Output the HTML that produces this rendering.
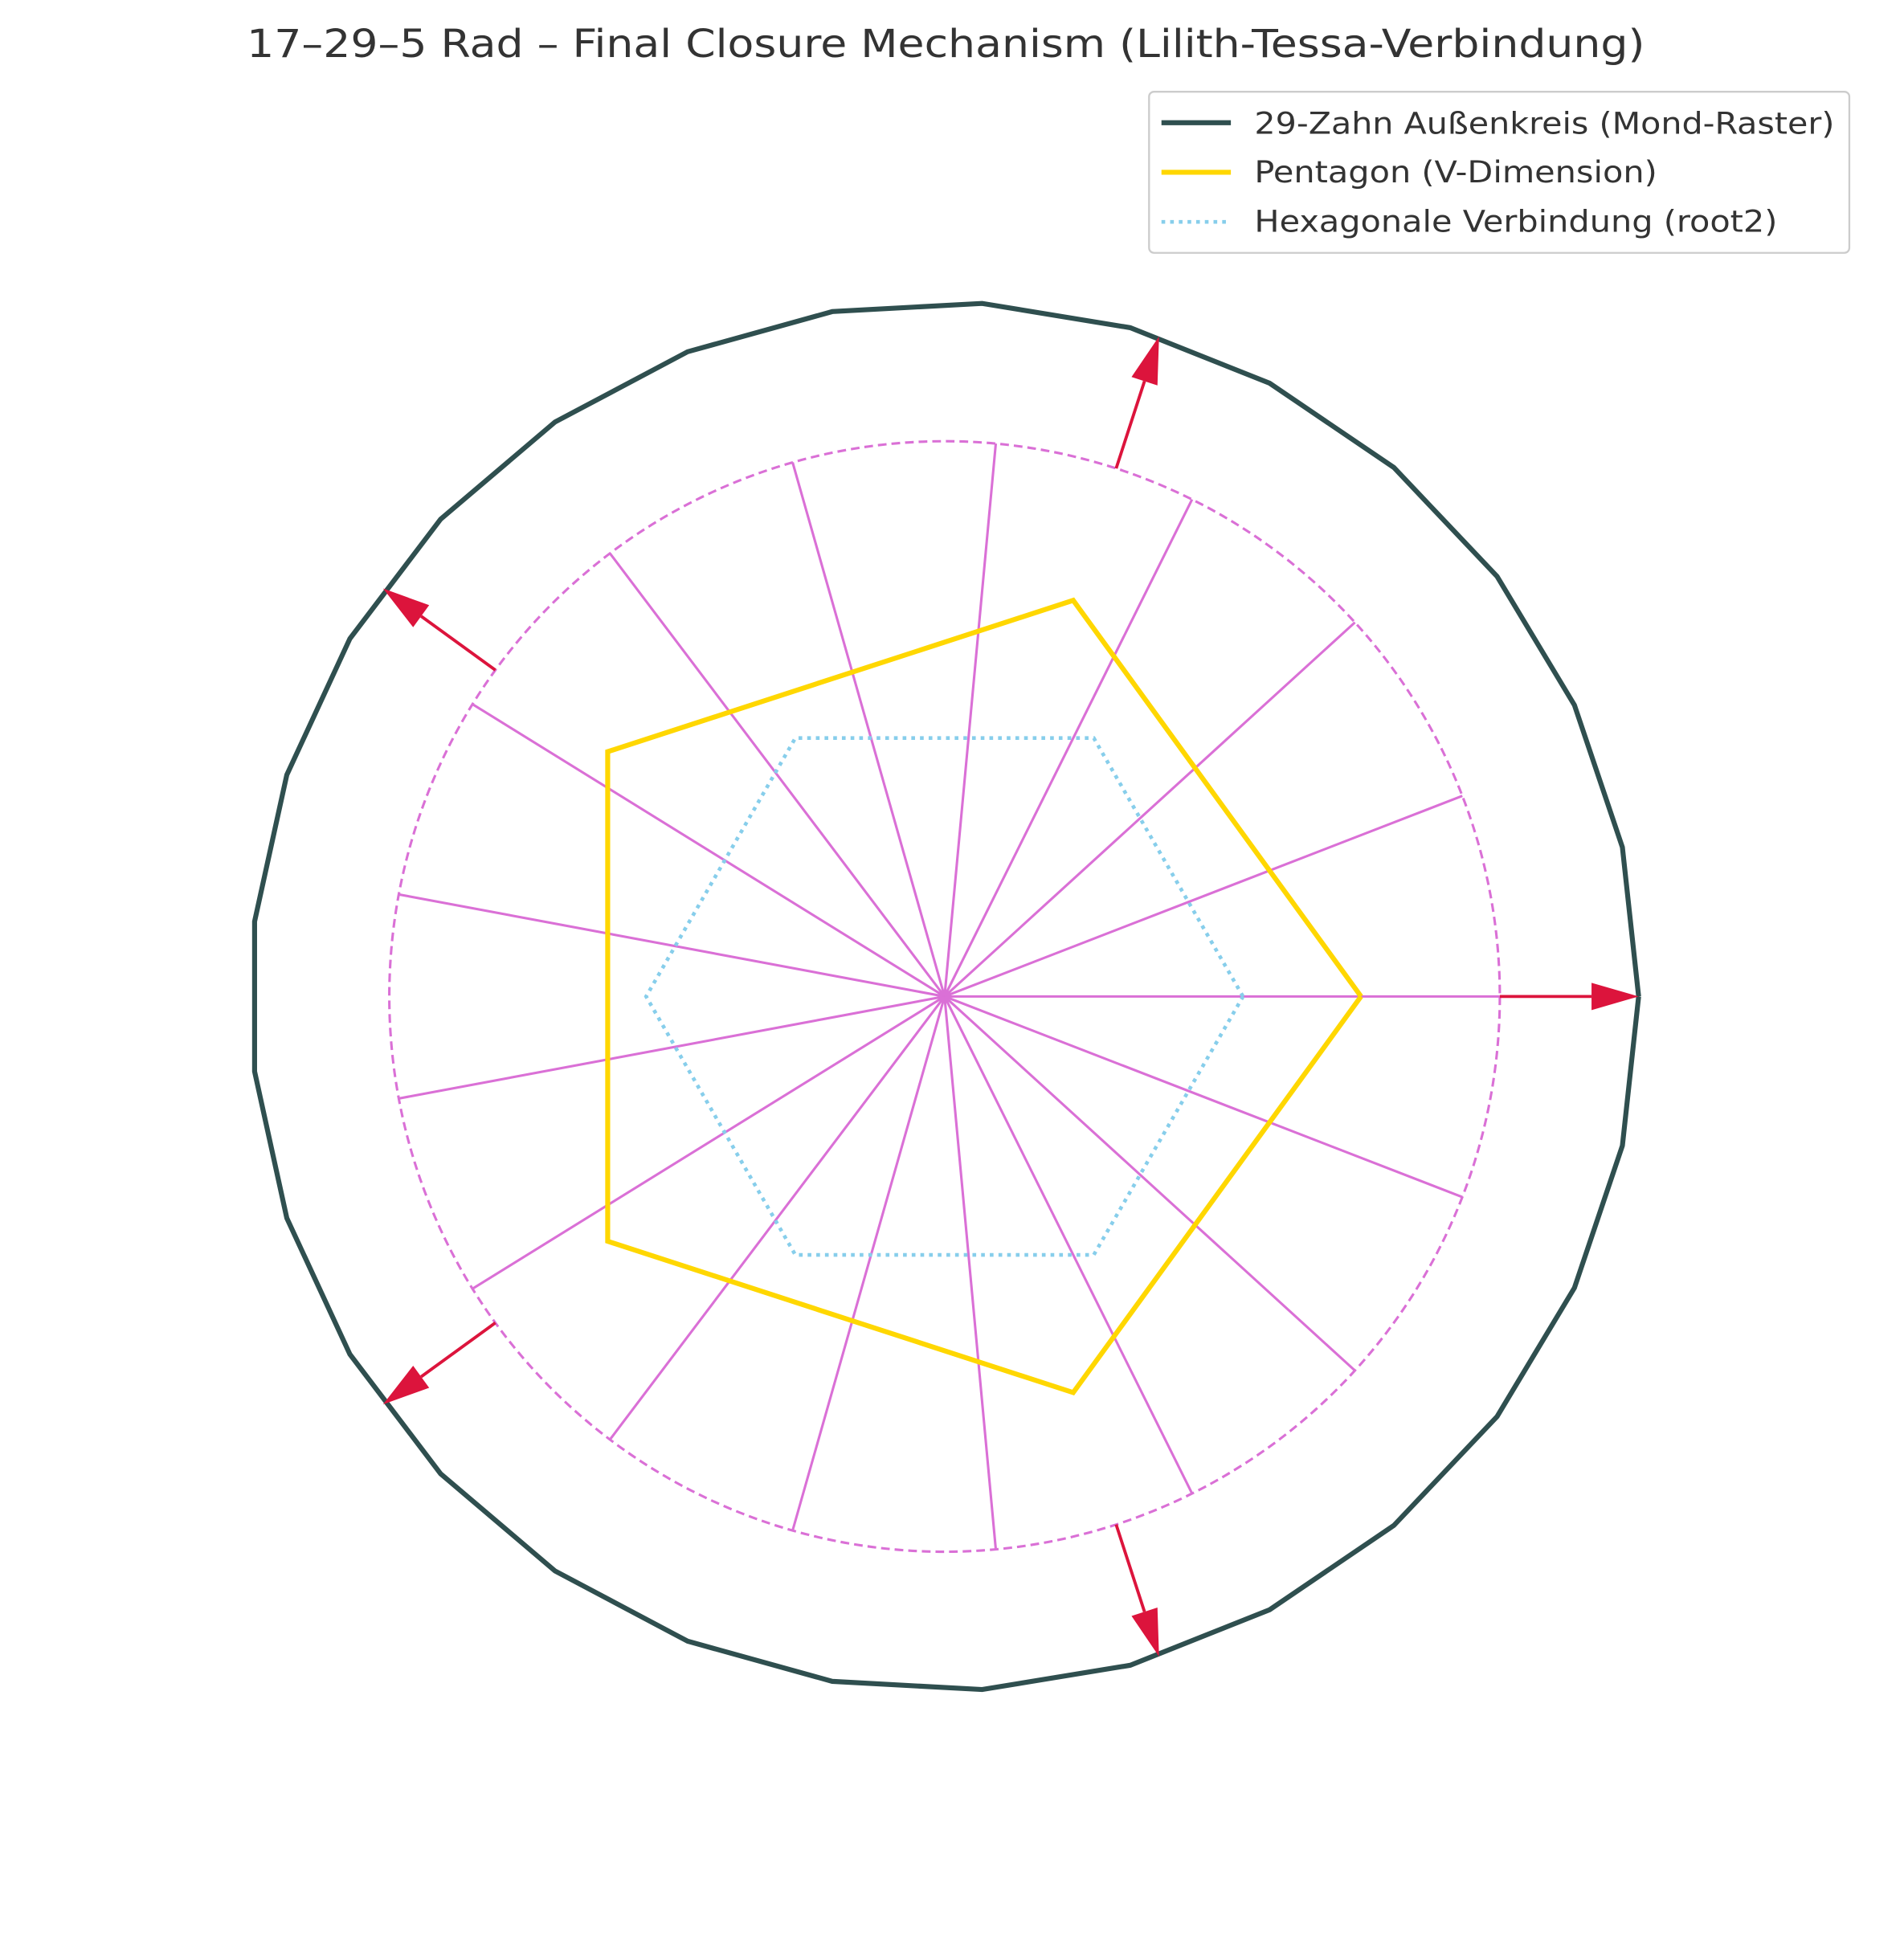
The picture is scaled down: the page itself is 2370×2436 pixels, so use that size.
<!DOCTYPE html>
<html><head><meta charset="utf-8"><style>
html,body{margin:0;padding:0;background:#fff;}
svg{display:block;}
</style></head><body>
<svg id="chart" width="2370" height="2436" viewBox="0 0 1536 1579" xmlns="http://www.w3.org/2000/svg">
<rect width="1536" height="1579" fill="#fff"/>
<text x="763" y="46" text-anchor="middle" textLength="1128" lengthAdjust="spacingAndGlyphs" font-family="DejaVu Sans, Liberation Sans, sans-serif" font-size="31" fill="#333">17–29–5 Rad – Final Closure Mechanism (Lilith-Tessa-Verbindung)</text>
<g id="plot"></g>
<g>
<rect x="927" y="74" width="565" height="130" rx="4" fill="#fff" stroke="#ccc" stroke-width="1.5"/>
<line x1="937" y1="99" x2="993" y2="99" stroke="#2f4f4f" stroke-width="4"/>
<text x="1012" y="108" textLength="468" lengthAdjust="spacingAndGlyphs" font-family="DejaVu Sans, Liberation Sans, sans-serif" font-size="24" fill="#333">29-Zahn Außenkreis (Mond-Raster)</text>
<line x1="937" y1="139" x2="993" y2="139" stroke="#ffd700" stroke-width="4"/>
<text x="1012" y="147" textLength="325" lengthAdjust="spacingAndGlyphs" font-family="DejaVu Sans, Liberation Sans, sans-serif" font-size="24" fill="#333">Pentagon (V-Dimension)</text>
<line x1="937" y1="179" x2="993" y2="179" stroke="#87ceeb" stroke-width="3" stroke-dasharray="3,4"/>
<text x="1012" y="187" textLength="422" lengthAdjust="spacingAndGlyphs" font-family="DejaVu Sans, Liberation Sans, sans-serif" font-size="24" fill="#333">Hexagonale Verbindung (root2)</text>
</g>
</svg>
<script>
const polygonSides = [29, 5, 6];
const polygonRadii = [1.0, 0.6, 0.43];
const spokeCount = [17];
const innerCircleRadius = [0.8];
const arrowCount = [5];
const arrowStart = [0.8];
const arrowEnd = [1.0];

const NS = 'http://www.w3.org/2000/svg';
const cx = 762, cy = 804, scaleR = 560;
const rx = r => r * scaleR;
const px = (r, a) => cx + rx(r) * Math.cos(a);
const py = (r, a) => cy - rx(r) * Math.sin(a);
const plot = document.getElementById('plot');
function mk(tag, attrs) { const e = document.createElementNS(NS, tag); for (const k in attrs) e.setAttribute(k, attrs[k]); plot.appendChild(e); return e; }

const circ = mk('circle', {cx: cx, cy: cy, r: rx(innerCircleRadius[0]), fill: 'none', stroke: '#da70d6', 'stroke-width': 2, 'stroke-dasharray': '7,4'});



for (let k = 0; k < spokeCount[0]; k++) {
  const a = 2 * Math.PI * k / spokeCount[0];
  const l = mk('line', {x1: cx, y1: cy, x2: px(innerCircleRadius[0], a), y2: py(innerCircleRadius[0], a), stroke: '#da70d6', 'stroke-width': 2});
  
  
}

function poly(n, r, style, name) {
  const pts = [];
  for (let k = 0; k <= n; k++) { const a = 2 * Math.PI * k / n; pts.push(px(r, a).toFixed(1) + ',' + py(r, a).toFixed(1)); }
  const p = mk('polyline', Object.assign({points: pts.join(' '), fill: 'none', 'stroke-linejoin': 'miter'}, style));
  
  
}
poly(polygonSides[2], polygonRadii[2], {stroke: '#87ceeb', 'stroke-width': 3, 'stroke-dasharray': '3,4'}, 'hexagon-line');
poly(polygonSides[1], polygonRadii[1], {stroke: '#ffd700', 'stroke-width': 4}, 'pentagon-line');
poly(polygonSides[0], polygonRadii[0], {stroke: '#2f4f4f', 'stroke-width': 4}, 'outer-29-gon-line');

for (let k = 0; k < arrowCount[0]; k++) {
  const a = 2 * Math.PI * k / arrowCount[0];
  const x1 = px(arrowStart[0], a), y1 = py(arrowStart[0], a), x2 = px(arrowEnd[0], a), y2 = py(arrowEnd[0], a);
  const hl = 38, hw = 11;
  const ux = Math.cos(a), uy = -Math.sin(a);
  const bx = x2 - ux * hl, by = y2 - uy * hl;
  const g = document.createElementNS(NS, 'g'); plot.appendChild(g);
  
  
  const l = document.createElementNS(NS, 'line');
  l.setAttribute('x1', x1); l.setAttribute('y1', y1); l.setAttribute('x2', bx); l.setAttribute('y2', by);
  l.setAttribute('stroke', '#dc143c'); l.setAttribute('stroke-width', 2.5);
  g.appendChild(l);
  const h = document.createElementNS(NS, 'polygon');
  h.setAttribute('points', [x2 + ',' + y2, (bx - uy * hw) + ',' + (by + ux * hw), (bx + uy * hw) + ',' + (by - ux * hw)].join(' '));
  h.setAttribute('fill', '#dc143c');
  g.appendChild(h);
}
</script>
</body></html>
